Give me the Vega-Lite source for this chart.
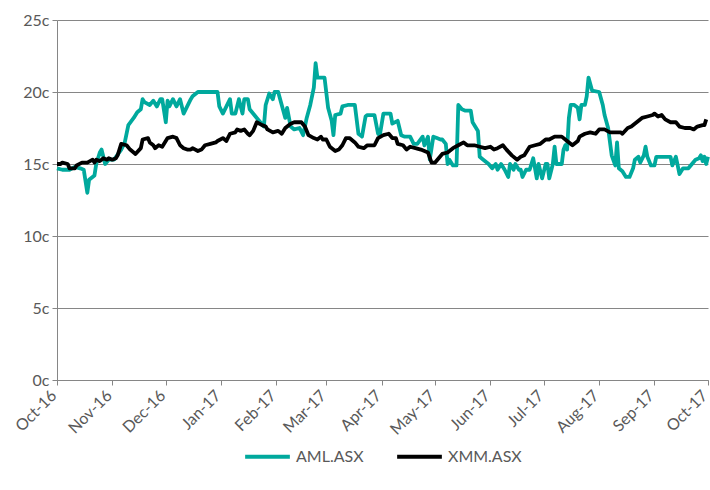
{
  "$schema": "https://vega.github.io/schema/vega-lite/v6.json",
  "width": 651,
  "height": 360,
  "autosize": {"type": "none"},
  "padding": {"left": 57, "top": 20, "right": 2, "bottom": 110},
  "background": "white",
  "config": {"view": {"stroke": null}, "legend": {"layout": {"bottom": {"anchor": "middle"}}}},
  "data": {"values": [
    {"date": "2016-10-01", "ticker": "AML.ASX", "price": 14.7},
    {"date": "2016-10-04", "ticker": "AML.ASX", "price": 14.6},
    {"date": "2016-10-08", "ticker": "AML.ASX", "price": 14.6},
    {"date": "2016-10-11", "ticker": "AML.ASX", "price": 14.8},
    {"date": "2016-10-14", "ticker": "AML.ASX", "price": 14.7},
    {"date": "2016-10-16", "ticker": "AML.ASX", "price": 14.6},
    {"date": "2016-10-18", "ticker": "AML.ASX", "price": 13.0},
    {"date": "2016-10-19", "ticker": "AML.ASX", "price": 13.9},
    {"date": "2016-10-22", "ticker": "AML.ASX", "price": 14.2},
    {"date": "2016-10-23", "ticker": "AML.ASX", "price": 15.0},
    {"date": "2016-10-25", "ticker": "AML.ASX", "price": 15.8},
    {"date": "2016-10-26", "ticker": "AML.ASX", "price": 16.0},
    {"date": "2016-10-28", "ticker": "AML.ASX", "price": 15.0},
    {"date": "2016-10-30", "ticker": "AML.ASX", "price": 15.3},
    {"date": "2016-11-02", "ticker": "AML.ASX", "price": 15.3},
    {"date": "2016-11-06", "ticker": "AML.ASX", "price": 16.0},
    {"date": "2016-11-08", "ticker": "AML.ASX", "price": 16.5},
    {"date": "2016-11-10", "ticker": "AML.ASX", "price": 17.7},
    {"date": "2016-11-13", "ticker": "AML.ASX", "price": 18.2},
    {"date": "2016-11-15", "ticker": "AML.ASX", "price": 18.6},
    {"date": "2016-11-17", "ticker": "AML.ASX", "price": 18.8},
    {"date": "2016-11-18", "ticker": "AML.ASX", "price": 19.5},
    {"date": "2016-11-19", "ticker": "AML.ASX", "price": 19.3},
    {"date": "2016-11-22", "ticker": "AML.ASX", "price": 19.1},
    {"date": "2016-11-24", "ticker": "AML.ASX", "price": 19.4},
    {"date": "2016-11-26", "ticker": "AML.ASX", "price": 19.0},
    {"date": "2016-11-28", "ticker": "AML.ASX", "price": 19.5},
    {"date": "2016-11-29", "ticker": "AML.ASX", "price": 19.5},
    {"date": "2016-12-01", "ticker": "AML.ASX", "price": 17.9},
    {"date": "2016-12-02", "ticker": "AML.ASX", "price": 19.4},
    {"date": "2016-12-03", "ticker": "AML.ASX", "price": 19.0},
    {"date": "2016-12-05", "ticker": "AML.ASX", "price": 19.5},
    {"date": "2016-12-07", "ticker": "AML.ASX", "price": 19.0},
    {"date": "2016-12-09", "ticker": "AML.ASX", "price": 19.5},
    {"date": "2016-12-11", "ticker": "AML.ASX", "price": 18.5},
    {"date": "2016-12-13", "ticker": "AML.ASX", "price": 19.0},
    {"date": "2016-12-15", "ticker": "AML.ASX", "price": 19.5},
    {"date": "2016-12-16", "ticker": "AML.ASX", "price": 19.7},
    {"date": "2016-12-19", "ticker": "AML.ASX", "price": 20.0},
    {"date": "2016-12-30", "ticker": "AML.ASX", "price": 20.0},
    {"date": "2016-12-31", "ticker": "AML.ASX", "price": 19.0},
    {"date": "2017-01-02", "ticker": "AML.ASX", "price": 18.5},
    {"date": "2017-01-04", "ticker": "AML.ASX", "price": 19.0},
    {"date": "2017-01-06", "ticker": "AML.ASX", "price": 19.5},
    {"date": "2017-01-07", "ticker": "AML.ASX", "price": 18.5},
    {"date": "2017-01-09", "ticker": "AML.ASX", "price": 18.5},
    {"date": "2017-01-11", "ticker": "AML.ASX", "price": 19.5},
    {"date": "2017-01-13", "ticker": "AML.ASX", "price": 18.5},
    {"date": "2017-01-14", "ticker": "AML.ASX", "price": 19.5},
    {"date": "2017-01-16", "ticker": "AML.ASX", "price": 19.5},
    {"date": "2017-01-17", "ticker": "AML.ASX", "price": 18.8},
    {"date": "2017-01-21", "ticker": "AML.ASX", "price": 18.2},
    {"date": "2017-01-25", "ticker": "AML.ASX", "price": 17.6},
    {"date": "2017-01-26", "ticker": "AML.ASX", "price": 19.1},
    {"date": "2017-01-28", "ticker": "AML.ASX", "price": 19.9},
    {"date": "2017-01-30", "ticker": "AML.ASX", "price": 19.5},
    {"date": "2017-01-31", "ticker": "AML.ASX", "price": 20.0},
    {"date": "2017-02-02", "ticker": "AML.ASX", "price": 20.0},
    {"date": "2017-02-04", "ticker": "AML.ASX", "price": 19.1},
    {"date": "2017-02-06", "ticker": "AML.ASX", "price": 18.2},
    {"date": "2017-02-07", "ticker": "AML.ASX", "price": 18.9},
    {"date": "2017-02-09", "ticker": "AML.ASX", "price": 17.6},
    {"date": "2017-02-11", "ticker": "AML.ASX", "price": 17.4},
    {"date": "2017-02-14", "ticker": "AML.ASX", "price": 17.5},
    {"date": "2017-02-16", "ticker": "AML.ASX", "price": 17.0},
    {"date": "2017-02-18", "ticker": "AML.ASX", "price": 18.2},
    {"date": "2017-02-20", "ticker": "AML.ASX", "price": 19.1},
    {"date": "2017-02-22", "ticker": "AML.ASX", "price": 20.3},
    {"date": "2017-02-23", "ticker": "AML.ASX", "price": 22.0},
    {"date": "2017-02-24", "ticker": "AML.ASX", "price": 21.0},
    {"date": "2017-02-28", "ticker": "AML.ASX", "price": 21.0},
    {"date": "2017-03-02", "ticker": "AML.ASX", "price": 18.9},
    {"date": "2017-03-04", "ticker": "AML.ASX", "price": 18.0},
    {"date": "2017-03-05", "ticker": "AML.ASX", "price": 17.0},
    {"date": "2017-03-06", "ticker": "AML.ASX", "price": 18.4},
    {"date": "2017-03-09", "ticker": "AML.ASX", "price": 18.5},
    {"date": "2017-03-10", "ticker": "AML.ASX", "price": 19.0},
    {"date": "2017-03-13", "ticker": "AML.ASX", "price": 19.1},
    {"date": "2017-03-17", "ticker": "AML.ASX", "price": 19.1},
    {"date": "2017-03-19", "ticker": "AML.ASX", "price": 17.1},
    {"date": "2017-03-21", "ticker": "AML.ASX", "price": 16.9},
    {"date": "2017-03-23", "ticker": "AML.ASX", "price": 18.3},
    {"date": "2017-03-24", "ticker": "AML.ASX", "price": 18.4},
    {"date": "2017-03-28", "ticker": "AML.ASX", "price": 18.4},
    {"date": "2017-03-30", "ticker": "AML.ASX", "price": 17.1},
    {"date": "2017-03-31", "ticker": "AML.ASX", "price": 17.0},
    {"date": "2017-04-02", "ticker": "AML.ASX", "price": 18.5},
    {"date": "2017-04-06", "ticker": "AML.ASX", "price": 18.5},
    {"date": "2017-04-07", "ticker": "AML.ASX", "price": 17.8},
    {"date": "2017-04-10", "ticker": "AML.ASX", "price": 18.0},
    {"date": "2017-04-12", "ticker": "AML.ASX", "price": 17.0},
    {"date": "2017-04-14", "ticker": "AML.ASX", "price": 16.9},
    {"date": "2017-04-17", "ticker": "AML.ASX", "price": 16.9},
    {"date": "2017-04-19", "ticker": "AML.ASX", "price": 16.4},
    {"date": "2017-04-21", "ticker": "AML.ASX", "price": 16.4},
    {"date": "2017-04-24", "ticker": "AML.ASX", "price": 16.9},
    {"date": "2017-04-25", "ticker": "AML.ASX", "price": 16.3},
    {"date": "2017-04-27", "ticker": "AML.ASX", "price": 16.9},
    {"date": "2017-04-28", "ticker": "AML.ASX", "price": 15.3},
    {"date": "2017-04-30", "ticker": "AML.ASX", "price": 16.9},
    {"date": "2017-05-02", "ticker": "AML.ASX", "price": 16.8},
    {"date": "2017-05-04", "ticker": "AML.ASX", "price": 16.7},
    {"date": "2017-05-05", "ticker": "AML.ASX", "price": 16.7},
    {"date": "2017-05-07", "ticker": "AML.ASX", "price": 16.4},
    {"date": "2017-05-08", "ticker": "AML.ASX", "price": 15.0},
    {"date": "2017-05-09", "ticker": "AML.ASX", "price": 15.3},
    {"date": "2017-05-11", "ticker": "AML.ASX", "price": 14.9},
    {"date": "2017-05-13", "ticker": "AML.ASX", "price": 14.9},
    {"date": "2017-05-14", "ticker": "AML.ASX", "price": 19.1},
    {"date": "2017-05-16", "ticker": "AML.ASX", "price": 18.8},
    {"date": "2017-05-18", "ticker": "AML.ASX", "price": 18.7},
    {"date": "2017-05-21", "ticker": "AML.ASX", "price": 18.7},
    {"date": "2017-05-22", "ticker": "AML.ASX", "price": 17.9},
    {"date": "2017-05-25", "ticker": "AML.ASX", "price": 17.3},
    {"date": "2017-05-26", "ticker": "AML.ASX", "price": 15.5},
    {"date": "2017-05-28", "ticker": "AML.ASX", "price": 15.3},
    {"date": "2017-05-31", "ticker": "AML.ASX", "price": 15.0},
    {"date": "2017-06-02", "ticker": "AML.ASX", "price": 14.7},
    {"date": "2017-06-04", "ticker": "AML.ASX", "price": 15.0},
    {"date": "2017-06-05", "ticker": "AML.ASX", "price": 14.6},
    {"date": "2017-06-07", "ticker": "AML.ASX", "price": 15.0},
    {"date": "2017-06-09", "ticker": "AML.ASX", "price": 14.6},
    {"date": "2017-06-11", "ticker": "AML.ASX", "price": 14.1},
    {"date": "2017-06-12", "ticker": "AML.ASX", "price": 15.0},
    {"date": "2017-06-14", "ticker": "AML.ASX", "price": 14.6},
    {"date": "2017-06-15", "ticker": "AML.ASX", "price": 15.0},
    {"date": "2017-06-17", "ticker": "AML.ASX", "price": 14.6},
    {"date": "2017-06-18", "ticker": "AML.ASX", "price": 14.6},
    {"date": "2017-06-19", "ticker": "AML.ASX", "price": 14.1},
    {"date": "2017-06-21", "ticker": "AML.ASX", "price": 14.6},
    {"date": "2017-06-23", "ticker": "AML.ASX", "price": 14.6},
    {"date": "2017-06-24", "ticker": "AML.ASX", "price": 15.0},
    {"date": "2017-06-25", "ticker": "AML.ASX", "price": 15.4},
    {"date": "2017-06-27", "ticker": "AML.ASX", "price": 14.0},
    {"date": "2017-06-28", "ticker": "AML.ASX", "price": 15.0},
    {"date": "2017-06-30", "ticker": "AML.ASX", "price": 14.0},
    {"date": "2017-07-02", "ticker": "AML.ASX", "price": 15.0},
    {"date": "2017-07-03", "ticker": "AML.ASX", "price": 15.0},
    {"date": "2017-07-04", "ticker": "AML.ASX", "price": 14.0},
    {"date": "2017-07-06", "ticker": "AML.ASX", "price": 15.0},
    {"date": "2017-07-07", "ticker": "AML.ASX", "price": 16.2},
    {"date": "2017-07-08", "ticker": "AML.ASX", "price": 15.0},
    {"date": "2017-07-11", "ticker": "AML.ASX", "price": 15.0},
    {"date": "2017-07-12", "ticker": "AML.ASX", "price": 16.0},
    {"date": "2017-07-13", "ticker": "AML.ASX", "price": 16.3},
    {"date": "2017-07-14", "ticker": "AML.ASX", "price": 16.0},
    {"date": "2017-07-15", "ticker": "AML.ASX", "price": 18.2},
    {"date": "2017-07-16", "ticker": "AML.ASX", "price": 19.1},
    {"date": "2017-07-18", "ticker": "AML.ASX", "price": 19.1},
    {"date": "2017-07-20", "ticker": "AML.ASX", "price": 18.9},
    {"date": "2017-07-21", "ticker": "AML.ASX", "price": 18.1},
    {"date": "2017-07-22", "ticker": "AML.ASX", "price": 19.1},
    {"date": "2017-07-24", "ticker": "AML.ASX", "price": 19.1},
    {"date": "2017-07-25", "ticker": "AML.ASX", "price": 19.7},
    {"date": "2017-07-26", "ticker": "AML.ASX", "price": 21.0},
    {"date": "2017-07-28", "ticker": "AML.ASX", "price": 20.1},
    {"date": "2017-08-01", "ticker": "AML.ASX", "price": 20.0},
    {"date": "2017-08-03", "ticker": "AML.ASX", "price": 19.1},
    {"date": "2017-08-04", "ticker": "AML.ASX", "price": 18.4},
    {"date": "2017-08-06", "ticker": "AML.ASX", "price": 17.5},
    {"date": "2017-08-08", "ticker": "AML.ASX", "price": 15.6},
    {"date": "2017-08-10", "ticker": "AML.ASX", "price": 14.9},
    {"date": "2017-08-11", "ticker": "AML.ASX", "price": 16.5},
    {"date": "2017-08-12", "ticker": "AML.ASX", "price": 14.7},
    {"date": "2017-08-14", "ticker": "AML.ASX", "price": 14.5},
    {"date": "2017-08-16", "ticker": "AML.ASX", "price": 14.1},
    {"date": "2017-08-18", "ticker": "AML.ASX", "price": 14.1},
    {"date": "2017-08-20", "ticker": "AML.ASX", "price": 14.7},
    {"date": "2017-08-21", "ticker": "AML.ASX", "price": 15.3},
    {"date": "2017-08-23", "ticker": "AML.ASX", "price": 15.5},
    {"date": "2017-08-24", "ticker": "AML.ASX", "price": 15.1},
    {"date": "2017-08-26", "ticker": "AML.ASX", "price": 15.6},
    {"date": "2017-08-27", "ticker": "AML.ASX", "price": 16.2},
    {"date": "2017-08-28", "ticker": "AML.ASX", "price": 15.5},
    {"date": "2017-08-30", "ticker": "AML.ASX", "price": 14.9},
    {"date": "2017-09-01", "ticker": "AML.ASX", "price": 14.9},
    {"date": "2017-09-02", "ticker": "AML.ASX", "price": 15.5},
    {"date": "2017-09-08", "ticker": "AML.ASX", "price": 15.5},
    {"date": "2017-09-10", "ticker": "AML.ASX", "price": 15.5},
    {"date": "2017-09-11", "ticker": "AML.ASX", "price": 14.9},
    {"date": "2017-09-13", "ticker": "AML.ASX", "price": 15.5},
    {"date": "2017-09-14", "ticker": "AML.ASX", "price": 14.9},
    {"date": "2017-09-15", "ticker": "AML.ASX", "price": 14.3},
    {"date": "2017-09-17", "ticker": "AML.ASX", "price": 14.7},
    {"date": "2017-09-20", "ticker": "AML.ASX", "price": 14.7},
    {"date": "2017-09-22", "ticker": "AML.ASX", "price": 15.0},
    {"date": "2017-09-24", "ticker": "AML.ASX", "price": 15.3},
    {"date": "2017-09-26", "ticker": "AML.ASX", "price": 15.4},
    {"date": "2017-09-27", "ticker": "AML.ASX", "price": 15.6},
    {"date": "2017-09-28", "ticker": "AML.ASX", "price": 15.2},
    {"date": "2017-09-29", "ticker": "AML.ASX", "price": 15.5},
    {"date": "2017-09-30", "ticker": "AML.ASX", "price": 15.0},
    {"date": "2017-10-01", "ticker": "AML.ASX", "price": 15.5},
    {"date": "2016-10-01", "ticker": "XMM.ASX", "price": 15.0},
    {"date": "2016-10-03", "ticker": "XMM.ASX", "price": 15.0},
    {"date": "2016-10-04", "ticker": "XMM.ASX", "price": 15.1},
    {"date": "2016-10-07", "ticker": "XMM.ASX", "price": 15.0},
    {"date": "2016-10-08", "ticker": "XMM.ASX", "price": 14.7},
    {"date": "2016-10-11", "ticker": "XMM.ASX", "price": 14.7},
    {"date": "2016-10-12", "ticker": "XMM.ASX", "price": 14.9},
    {"date": "2016-10-15", "ticker": "XMM.ASX", "price": 15.1},
    {"date": "2016-10-18", "ticker": "XMM.ASX", "price": 15.1},
    {"date": "2016-10-21", "ticker": "XMM.ASX", "price": 15.3},
    {"date": "2016-10-22", "ticker": "XMM.ASX", "price": 15.1},
    {"date": "2016-10-23", "ticker": "XMM.ASX", "price": 15.3},
    {"date": "2016-10-25", "ticker": "XMM.ASX", "price": 15.2},
    {"date": "2016-10-27", "ticker": "XMM.ASX", "price": 15.4},
    {"date": "2016-10-29", "ticker": "XMM.ASX", "price": 15.3},
    {"date": "2016-10-30", "ticker": "XMM.ASX", "price": 15.4},
    {"date": "2016-11-01", "ticker": "XMM.ASX", "price": 15.3},
    {"date": "2016-11-03", "ticker": "XMM.ASX", "price": 15.4},
    {"date": "2016-11-04", "ticker": "XMM.ASX", "price": 15.6},
    {"date": "2016-11-06", "ticker": "XMM.ASX", "price": 16.4},
    {"date": "2016-11-09", "ticker": "XMM.ASX", "price": 16.3},
    {"date": "2016-11-11", "ticker": "XMM.ASX", "price": 16.0},
    {"date": "2016-11-14", "ticker": "XMM.ASX", "price": 15.7},
    {"date": "2016-11-17", "ticker": "XMM.ASX", "price": 16.1},
    {"date": "2016-11-18", "ticker": "XMM.ASX", "price": 16.7},
    {"date": "2016-11-21", "ticker": "XMM.ASX", "price": 16.8},
    {"date": "2016-11-22", "ticker": "XMM.ASX", "price": 16.5},
    {"date": "2016-11-24", "ticker": "XMM.ASX", "price": 16.3},
    {"date": "2016-11-25", "ticker": "XMM.ASX", "price": 16.1},
    {"date": "2016-11-27", "ticker": "XMM.ASX", "price": 16.3},
    {"date": "2016-11-29", "ticker": "XMM.ASX", "price": 16.2},
    {"date": "2016-12-02", "ticker": "XMM.ASX", "price": 16.8},
    {"date": "2016-12-05", "ticker": "XMM.ASX", "price": 16.9},
    {"date": "2016-12-07", "ticker": "XMM.ASX", "price": 16.8},
    {"date": "2016-12-09", "ticker": "XMM.ASX", "price": 16.3},
    {"date": "2016-12-11", "ticker": "XMM.ASX", "price": 16.1},
    {"date": "2016-12-13", "ticker": "XMM.ASX", "price": 16.0},
    {"date": "2016-12-15", "ticker": "XMM.ASX", "price": 16.0},
    {"date": "2016-12-16", "ticker": "XMM.ASX", "price": 16.1},
    {"date": "2016-12-19", "ticker": "XMM.ASX", "price": 15.9},
    {"date": "2016-12-21", "ticker": "XMM.ASX", "price": 16.0},
    {"date": "2016-12-23", "ticker": "XMM.ASX", "price": 16.3},
    {"date": "2016-12-26", "ticker": "XMM.ASX", "price": 16.4},
    {"date": "2016-12-29", "ticker": "XMM.ASX", "price": 16.5},
    {"date": "2016-12-30", "ticker": "XMM.ASX", "price": 16.6},
    {"date": "2017-01-02", "ticker": "XMM.ASX", "price": 16.8},
    {"date": "2017-01-04", "ticker": "XMM.ASX", "price": 16.6},
    {"date": "2017-01-06", "ticker": "XMM.ASX", "price": 17.1},
    {"date": "2017-01-09", "ticker": "XMM.ASX", "price": 17.2},
    {"date": "2017-01-10", "ticker": "XMM.ASX", "price": 17.4},
    {"date": "2017-01-12", "ticker": "XMM.ASX", "price": 17.3},
    {"date": "2017-01-14", "ticker": "XMM.ASX", "price": 17.4},
    {"date": "2017-01-16", "ticker": "XMM.ASX", "price": 17.1},
    {"date": "2017-01-17", "ticker": "XMM.ASX", "price": 17.0},
    {"date": "2017-01-19", "ticker": "XMM.ASX", "price": 17.3},
    {"date": "2017-01-21", "ticker": "XMM.ASX", "price": 17.9},
    {"date": "2017-01-24", "ticker": "XMM.ASX", "price": 17.7},
    {"date": "2017-01-26", "ticker": "XMM.ASX", "price": 17.6},
    {"date": "2017-01-27", "ticker": "XMM.ASX", "price": 17.4},
    {"date": "2017-01-30", "ticker": "XMM.ASX", "price": 17.2},
    {"date": "2017-02-02", "ticker": "XMM.ASX", "price": 17.3},
    {"date": "2017-02-04", "ticker": "XMM.ASX", "price": 17.1},
    {"date": "2017-02-06", "ticker": "XMM.ASX", "price": 17.5},
    {"date": "2017-02-09", "ticker": "XMM.ASX", "price": 17.8},
    {"date": "2017-02-11", "ticker": "XMM.ASX", "price": 17.9},
    {"date": "2017-02-15", "ticker": "XMM.ASX", "price": 17.9},
    {"date": "2017-02-17", "ticker": "XMM.ASX", "price": 17.6},
    {"date": "2017-02-19", "ticker": "XMM.ASX", "price": 17.0},
    {"date": "2017-02-22", "ticker": "XMM.ASX", "price": 16.8},
    {"date": "2017-02-24", "ticker": "XMM.ASX", "price": 16.7},
    {"date": "2017-02-26", "ticker": "XMM.ASX", "price": 16.9},
    {"date": "2017-02-27", "ticker": "XMM.ASX", "price": 16.7},
    {"date": "2017-03-01", "ticker": "XMM.ASX", "price": 16.7},
    {"date": "2017-03-03", "ticker": "XMM.ASX", "price": 16.2},
    {"date": "2017-03-06", "ticker": "XMM.ASX", "price": 15.9},
    {"date": "2017-03-08", "ticker": "XMM.ASX", "price": 16.0},
    {"date": "2017-03-10", "ticker": "XMM.ASX", "price": 16.3},
    {"date": "2017-03-12", "ticker": "XMM.ASX", "price": 16.8},
    {"date": "2017-03-14", "ticker": "XMM.ASX", "price": 16.8},
    {"date": "2017-03-17", "ticker": "XMM.ASX", "price": 16.5},
    {"date": "2017-03-19", "ticker": "XMM.ASX", "price": 16.2},
    {"date": "2017-03-22", "ticker": "XMM.ASX", "price": 16.1},
    {"date": "2017-03-24", "ticker": "XMM.ASX", "price": 16.3},
    {"date": "2017-03-28", "ticker": "XMM.ASX", "price": 16.3},
    {"date": "2017-03-30", "ticker": "XMM.ASX", "price": 16.8},
    {"date": "2017-04-02", "ticker": "XMM.ASX", "price": 17.0},
    {"date": "2017-04-05", "ticker": "XMM.ASX", "price": 17.1},
    {"date": "2017-04-07", "ticker": "XMM.ASX", "price": 16.8},
    {"date": "2017-04-09", "ticker": "XMM.ASX", "price": 16.8},
    {"date": "2017-04-10", "ticker": "XMM.ASX", "price": 16.4},
    {"date": "2017-04-13", "ticker": "XMM.ASX", "price": 16.3},
    {"date": "2017-04-15", "ticker": "XMM.ASX", "price": 16.0},
    {"date": "2017-04-17", "ticker": "XMM.ASX", "price": 16.2},
    {"date": "2017-04-20", "ticker": "XMM.ASX", "price": 16.1},
    {"date": "2017-04-23", "ticker": "XMM.ASX", "price": 16.0},
    {"date": "2017-04-27", "ticker": "XMM.ASX", "price": 15.8},
    {"date": "2017-04-29", "ticker": "XMM.ASX", "price": 15.1},
    {"date": "2017-05-01", "ticker": "XMM.ASX", "price": 15.1},
    {"date": "2017-05-03", "ticker": "XMM.ASX", "price": 15.4},
    {"date": "2017-05-05", "ticker": "XMM.ASX", "price": 15.7},
    {"date": "2017-05-08", "ticker": "XMM.ASX", "price": 15.8},
    {"date": "2017-05-11", "ticker": "XMM.ASX", "price": 16.1},
    {"date": "2017-05-14", "ticker": "XMM.ASX", "price": 16.3},
    {"date": "2017-05-17", "ticker": "XMM.ASX", "price": 16.5},
    {"date": "2017-05-19", "ticker": "XMM.ASX", "price": 16.3},
    {"date": "2017-05-23", "ticker": "XMM.ASX", "price": 16.3},
    {"date": "2017-05-26", "ticker": "XMM.ASX", "price": 16.2},
    {"date": "2017-05-29", "ticker": "XMM.ASX", "price": 16.1},
    {"date": "2017-06-01", "ticker": "XMM.ASX", "price": 16.2},
    {"date": "2017-06-03", "ticker": "XMM.ASX", "price": 16.0},
    {"date": "2017-06-05", "ticker": "XMM.ASX", "price": 16.1},
    {"date": "2017-06-08", "ticker": "XMM.ASX", "price": 16.3},
    {"date": "2017-06-10", "ticker": "XMM.ASX", "price": 16.0},
    {"date": "2017-06-13", "ticker": "XMM.ASX", "price": 15.6},
    {"date": "2017-06-16", "ticker": "XMM.ASX", "price": 15.3},
    {"date": "2017-06-18", "ticker": "XMM.ASX", "price": 15.5},
    {"date": "2017-06-20", "ticker": "XMM.ASX", "price": 15.6},
    {"date": "2017-06-23", "ticker": "XMM.ASX", "price": 16.2},
    {"date": "2017-06-26", "ticker": "XMM.ASX", "price": 16.3},
    {"date": "2017-06-29", "ticker": "XMM.ASX", "price": 16.4},
    {"date": "2017-07-02", "ticker": "XMM.ASX", "price": 16.7},
    {"date": "2017-07-04", "ticker": "XMM.ASX", "price": 16.7},
    {"date": "2017-07-07", "ticker": "XMM.ASX", "price": 16.9},
    {"date": "2017-07-11", "ticker": "XMM.ASX", "price": 16.9},
    {"date": "2017-07-14", "ticker": "XMM.ASX", "price": 16.6},
    {"date": "2017-07-17", "ticker": "XMM.ASX", "price": 16.3},
    {"date": "2017-07-20", "ticker": "XMM.ASX", "price": 16.6},
    {"date": "2017-07-21", "ticker": "XMM.ASX", "price": 16.9},
    {"date": "2017-07-24", "ticker": "XMM.ASX", "price": 17.1},
    {"date": "2017-07-27", "ticker": "XMM.ASX", "price": 17.2},
    {"date": "2017-07-30", "ticker": "XMM.ASX", "price": 17.1},
    {"date": "2017-08-01", "ticker": "XMM.ASX", "price": 17.4},
    {"date": "2017-08-04", "ticker": "XMM.ASX", "price": 17.4},
    {"date": "2017-08-07", "ticker": "XMM.ASX", "price": 17.2},
    {"date": "2017-08-10", "ticker": "XMM.ASX", "price": 17.2},
    {"date": "2017-08-13", "ticker": "XMM.ASX", "price": 17.2},
    {"date": "2017-08-14", "ticker": "XMM.ASX", "price": 17.1},
    {"date": "2017-08-17", "ticker": "XMM.ASX", "price": 17.5},
    {"date": "2017-08-19", "ticker": "XMM.ASX", "price": 17.6},
    {"date": "2017-08-22", "ticker": "XMM.ASX", "price": 17.9},
    {"date": "2017-08-25", "ticker": "XMM.ASX", "price": 18.2},
    {"date": "2017-08-28", "ticker": "XMM.ASX", "price": 18.3},
    {"date": "2017-08-31", "ticker": "XMM.ASX", "price": 18.4},
    {"date": "2017-09-01", "ticker": "XMM.ASX", "price": 18.5},
    {"date": "2017-09-03", "ticker": "XMM.ASX", "price": 18.3},
    {"date": "2017-09-05", "ticker": "XMM.ASX", "price": 18.4},
    {"date": "2017-09-07", "ticker": "XMM.ASX", "price": 18.1},
    {"date": "2017-09-10", "ticker": "XMM.ASX", "price": 17.9},
    {"date": "2017-09-13", "ticker": "XMM.ASX", "price": 17.9},
    {"date": "2017-09-15", "ticker": "XMM.ASX", "price": 17.6},
    {"date": "2017-09-18", "ticker": "XMM.ASX", "price": 17.5},
    {"date": "2017-09-21", "ticker": "XMM.ASX", "price": 17.5},
    {"date": "2017-09-23", "ticker": "XMM.ASX", "price": 17.4},
    {"date": "2017-09-25", "ticker": "XMM.ASX", "price": 17.6},
    {"date": "2017-09-28", "ticker": "XMM.ASX", "price": 17.7},
    {"date": "2017-09-29", "ticker": "XMM.ASX", "price": 17.7},
    {"date": "2017-09-30", "ticker": "XMM.ASX", "price": 18.1}
  ]},
  "mark": {"type": "line", "strokeWidth": 3.8, "strokeJoin": "round"},
  "encoding": {
    "x": {
      "field": "date",
      "type": "temporal",
      "scale": {"type": "utc", "domain": [{"year": 2016, "month": 10, "date": 1, "utc": true}, {"year": 2017, "month": 10, "date": 1, "utc": true}]},
      "axis": {
        "title": null,
        "format": "%b-%y",
        "labelAngle": -45,
        "tickCount": {"interval": "month", "step": 1},
        "grid": false,
        "domainColor": "#868686",
        "tickColor": "#868686",
        "tickSize": 5,
        "labelFont": "Lato",
        "labelFontSize": 16,
        "labelColor": "#595959",
        "labelPadding": 2,
        "labelOffset": -9,
        "labelOverlap": false,
        "labelBound": false,
        "labelFlush": false
      }
    },
    "y": {
      "field": "price",
      "type": "quantitative",
      "scale": {"domain": [0, 25], "nice": false, "zero": true},
      "axis": {
        "title": null,
        "values": [0, 5, 10, 15, 20, 25],
        "labelExpr": "datum.value + 'c'",
        "grid": true,
        "gridColor": "#868686",
        "gridWidth": 1,
        "domain": true,
        "domainColor": "#868686",
        "ticks": true,
        "tickSize": 5,
        "tickColor": "#868686",
        "labelFont": "Lato",
        "labelFontSize": 16,
        "labelColor": "#595959",
        "labelPadding": 3
      }
    },
    "color": {
      "field": "ticker",
      "type": "nominal",
      "scale": {"domain": ["AML.ASX", "XMM.ASX"], "range": ["#00A99D", "#000000"]},
      "legend": {
        "title": null,
        "orient": "bottom",
        "direction": "horizontal",
        "symbolType": "stroke",
        "symbolStrokeWidth": 4,
        "symbolSize": 2000,
        "labelFont": "Lato",
        "labelFontSize": 16,
        "labelColor": "#595959",
        "columnPadding": 25,
        "offset": -6
      }
    }
  }
}
